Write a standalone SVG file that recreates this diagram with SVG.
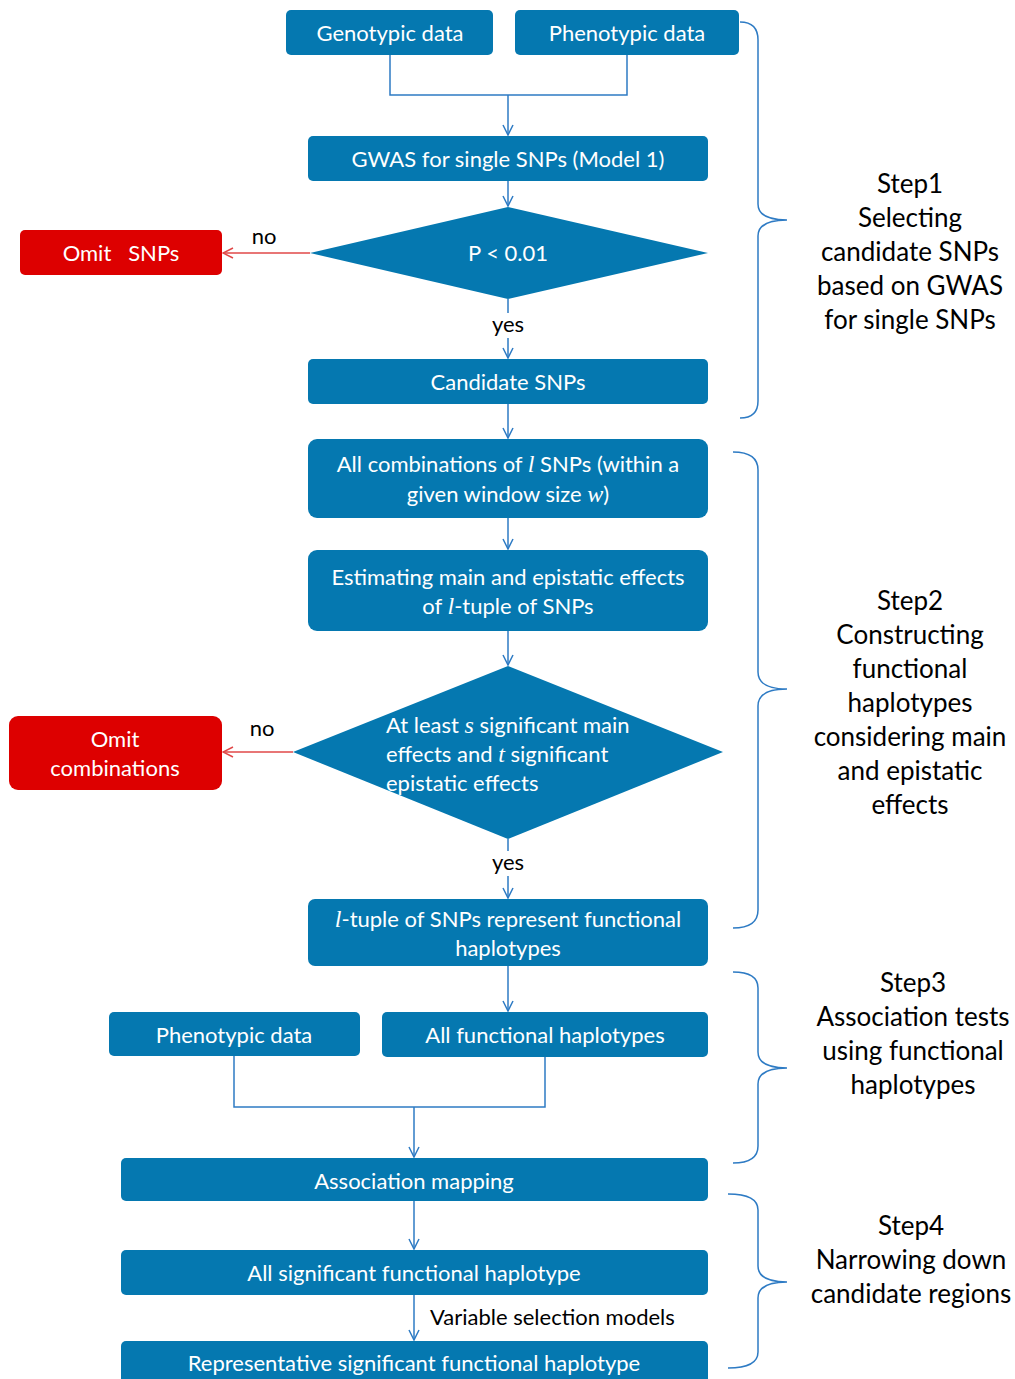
<svg xmlns="http://www.w3.org/2000/svg" width="1015" height="1379" viewBox="0 0 1015 1379">
<style>
.box{fill:#0578B0;}
.red{fill:#DD0000;}
.t{font-family:Lato,"Open Sans",sans-serif;font-size:22px;fill:#fff;text-anchor:middle;}
.tl{font-family:Lato,"Open Sans",sans-serif;font-size:22px;fill:#fff;}
.lab{font-family:Lato,"Open Sans",sans-serif;font-size:22px;fill:#000;}
.step{font-family:Lato,"Open Sans",sans-serif;font-size:26px;fill:#000;text-anchor:middle;}
.it{font-family:"Liberation Serif",serif;font-style:italic;font-size:24px;}
.c{fill:none;stroke:#2E7BC4;stroke-width:1.5;}
.cr{fill:none;stroke:#E04848;stroke-width:1.5;}
.br{fill:none;stroke:#2E7BC4;stroke-width:1.5;}
</style>
<defs>
<marker id="ab" viewBox="0 0 12 12" refX="11" refY="6" markerWidth="12" markerHeight="12" markerUnits="userSpaceOnUse" orient="auto">
<path d="M1,1 L11,6 L1,11" fill="none" stroke="#2E7BC4" stroke-width="1.5"/>
</marker>
<marker id="ar" viewBox="0 0 12 12" refX="11" refY="6" markerWidth="12" markerHeight="12" markerUnits="userSpaceOnUse" orient="auto">
<path d="M1,1 L11,6 L1,11" fill="none" stroke="#E04848" stroke-width="1.5"/>
</marker>
</defs>
<rect width="1015" height="1379" fill="#fff"/>

<g id="connectors">
<path class="c" d="M390,55 V95 H627 V55"/>
<path class="c" d="M508,95 V135" marker-end="url(#ab)"/>
<path class="c" d="M508,181 V206" marker-end="url(#ab)"/>
<path class="c" d="M508,299 V313 M508,338 V358" marker-end="url(#ab)"/>
<path class="cr" d="M310,253 H223" marker-end="url(#ar)"/>
<path class="c" d="M508,404 V438" marker-end="url(#ab)"/>
<path class="c" d="M508,518 V549" marker-end="url(#ab)"/>
<path class="c" d="M508,631 V665" marker-end="url(#ab)"/>
<path class="c" d="M508,839 V851 M508,876 V898" marker-end="url(#ab)"/>
<path class="cr" d="M293,752 H223" marker-end="url(#ar)"/>
<path class="c" d="M508,966 V1011" marker-end="url(#ab)"/>
<path class="c" d="M234,1056 V1107 H545 V1057"/>
<path class="c" d="M414,1107 V1157" marker-end="url(#ab)"/>
<path class="c" d="M414,1201 V1249" marker-end="url(#ab)"/>
<path class="c" d="M414,1295 V1340" marker-end="url(#ab)"/>
<text class="lab" x="264" y="244" text-anchor="middle">no</text>
<text class="lab" x="508" y="332" text-anchor="middle">yes</text>
<text class="lab" x="262" y="736" text-anchor="middle">no</text>
<text class="lab" x="508" y="870" text-anchor="middle">yes</text>
<text class="lab" x="430" y="1325">Variable selection models</text>
</g>

<g id="genotypic">
<rect class="box" x="286" y="10" width="207" height="45" rx="5"/>
<text class="t" x="390" y="41">Genotypic data</text>
</g>
<g id="phenotypic1">
<rect class="box" x="515" y="10" width="224" height="45" rx="5"/>
<text class="t" x="627" y="41">Phenotypic data</text>
</g>
<g id="gwas">
<rect class="box" x="308" y="136" width="400" height="45" rx="5"/>
<text class="t" x="508" y="167">GWAS for single SNPs (Model 1)</text>
</g>
<g id="decision1">
<polygon class="box" points="310,253 508,207 708,253 508,299"/>
<text class="t" x="508" y="261">P &lt; 0.01</text>
</g>
<g id="omit-snps">
<rect class="red" x="20" y="230" width="202" height="45" rx="5"/>
<text class="t" x="121" y="261" style="white-space:pre" xml:space="preserve">Omit   SNPs</text>
</g>
<g id="candidate">
<rect class="box" x="308" y="359" width="400" height="45" rx="5"/>
<text class="t" x="508" y="390">Candidate SNPs</text>
</g>
<g id="combinations">
<rect class="box" x="308" y="439" width="400" height="79" rx="9"/>
<text class="t" x="508" y="472">All combinations of <tspan class="it">l</tspan> SNPs (within a</text>
<text class="t" x="508" y="502">given window size <tspan class="it">w</tspan>)</text>
</g>
<g id="estimating">
<rect class="box" x="308" y="550" width="400" height="81" rx="9"/>
<text class="t" x="508" y="585">Estimating main and epistatic effects</text>
<text class="t" x="508" y="614">of <tspan class="it">l</tspan>-tuple of SNPs</text>
</g>
<g id="decision2">
<polygon class="box" points="293,752 508,666 723,752 508,839"/>
<text class="tl" x="386" y="733">At least <tspan class="it">s</tspan> significant main</text>
<text class="tl" x="386" y="762">effects and <tspan class="it">t</tspan> significant</text>
<text class="tl" x="386" y="791">epistatic effects</text>
</g>
<g id="omit-combinations">
<rect class="red" x="9" y="716" width="213" height="74" rx="9"/>
<text class="t" x="115" y="747">Omit</text>
<text class="t" x="115" y="776">combinations</text>
</g>
<g id="ltuple">
<rect class="box" x="308" y="899" width="400" height="67" rx="7"/>
<text class="t" x="508" y="927"><tspan class="it">l</tspan>-tuple of SNPs represent functional</text>
<text class="t" x="508" y="956">haplotypes</text>
</g>
<g id="phenotypic2">
<rect class="box" x="109" y="1012" width="251" height="44" rx="5"/>
<text class="t" x="234" y="1043">Phenotypic data</text>
</g>
<g id="all-functional">
<rect class="box" x="382" y="1012" width="326" height="45" rx="5"/>
<text class="t" x="545" y="1043">All functional haplotypes</text>
</g>
<g id="association">
<rect class="box" x="121" y="1158" width="587" height="43" rx="5"/>
<text class="t" x="414" y="1189">Association mapping</text>
</g>
<g id="all-significant">
<rect class="box" x="121" y="1250" width="587" height="45" rx="5"/>
<text class="t" x="414" y="1281">All significant functional haplotype</text>
</g>
<g id="representative">
<rect class="box" x="121" y="1341" width="587" height="45" rx="5"/>
<text class="t" x="414" y="1371">Representative significant functional haplotype</text>
</g>

<g id="step1">
<path class="br" d="M740,22 Q758,22 758,40 V204 Q758,220 787,220 Q758,220 758,236 V401 Q758,418 740,418"/>
<text class="step" x="910" y="193">Step1</text>
<text class="step" x="910" y="227">Selecting</text>
<text class="step" x="910" y="261">candidate SNPs</text>
<text class="step" x="910" y="295">based on GWAS</text>
<text class="step" x="910" y="329">for single SNPs</text>
</g>
<g id="step2">
<path class="br" d="M733,452 Q758,452 758,470 V672 Q758,689 787,689 Q758,689 758,706 V910 Q758,928 733,928"/>
<text class="step" x="910" y="610">Step2</text>
<text class="step" x="910" y="644">Constructing</text>
<text class="step" x="910" y="678">functional</text>
<text class="step" x="910" y="712">haplotypes</text>
<text class="step" x="910" y="746">considering main</text>
<text class="step" x="910" y="780">and epistatic</text>
<text class="step" x="910" y="814">effects</text>
</g>
<g id="step3">
<path class="br" d="M733,972 Q758,972 758,988 V1052 Q758,1068 787,1068 Q758,1068 758,1084 V1146 Q758,1163 733,1163"/>
<text class="step" x="913" y="992">Step3</text>
<text class="step" x="913" y="1026">Association tests</text>
<text class="step" x="913" y="1060">using functional</text>
<text class="step" x="913" y="1094">haplotypes</text>
</g>
<g id="step4">
<path class="br" d="M728,1194 Q758,1194 758,1210 V1266 Q758,1282 787,1282 Q758,1282 758,1298 V1352 Q758,1368 728,1368"/>
<text class="step" x="911" y="1235">Step4</text>
<text class="step" x="911" y="1269">Narrowing down</text>
<text class="step" x="911" y="1303">candidate regions</text>
</g>
</svg>
